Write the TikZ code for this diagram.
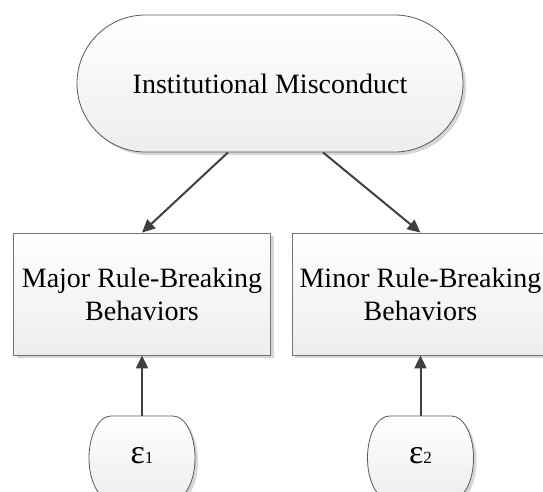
\documentclass[tikz,border=0pt]{standalone}
\usepackage{fontspec}
\setmainfont{Liberation Serif}
\usetikzlibrary{arrows.meta,shadows,calc}
\begin{document}
\begin{tikzpicture}[x=1pt,y=1pt,
  soft fill/.style={top color=white,bottom color=black!7,draw=black!65,line width=0.8pt,
     drop shadow={shadow xshift=3pt,shadow yshift=-3pt,fill=black!35,opacity=0.45}},
  factor/.style={soft fill,rounded corners=68.5pt,minimum width=386pt,minimum height=137pt,inner sep=0pt},
  indicator/.style={soft fill,draw=black!55,minimum width=257pt,minimum height=122pt,align=center,inner sep=0pt},
  big text/.style={font=\fontsize{28}{33}\selectfont},
  link/.style={draw=black!75,line width=2pt,-{Triangle[length=13pt,width=12pt]}},
  errlabel/.style={minimum width=106pt,minimum height=84pt,inner sep=0pt}
]
\clip (0,0) rectangle (543,492);
\fill[white] (0,0) rectangle (543,492);

% error term outline: flat top, elliptical sides
\newcommand\errblob[1]{%
  \path[soft fill]
    ($(#1)+(-31,42)$) -- ($(#1)+(31,42)$)
    arc[start angle=90,end angle=-90,x radius=22,y radius=42]
    -- ($(#1)+(-31,-42)$)
    arc[start angle=270,end angle=90,x radius=22,y radius=42] -- cycle;}

% latent factor
\node[factor,big text] (fac) at (270,408.5) {Institutional Misconduct};

% observed indicators
\node[indicator,big text] (maj) at (142,198) {Major Rule-Breaking\\Behaviors};
\node[indicator,big text] (mnr) at (420.5,198) {Minor Rule-Breaking\\Behaviors};

% error terms
\coordinate (e1c) at (142,34);
\coordinate (e2c) at (420.5,34);
\errblob{e1c}
\errblob{e2c}
\node[errlabel] (e1) at ($(e1c)+(0,2)$) {{\fontsize{34}{34}\selectfont ε}{\fontsize{17}{17}\selectfont 1}};
\node[errlabel] (e2) at ($(e2c)+(0,2)$) {{\fontsize{34}{34}\selectfont ε}{\fontsize{17}{17}\selectfont 2}};

% loadings
\draw[link] ($(fac.south)+(-42,0)$) -- (maj.north);
\draw[link] ($(fac.south)+(53,0)$) -- (mnr.north);

% residual paths
\draw[link] ($(e1c)+(0,42)$) -- (maj.south);
\draw[link] ($(e2c)+(0,42)$) -- (mnr.south);
\end{tikzpicture}
\end{document}
